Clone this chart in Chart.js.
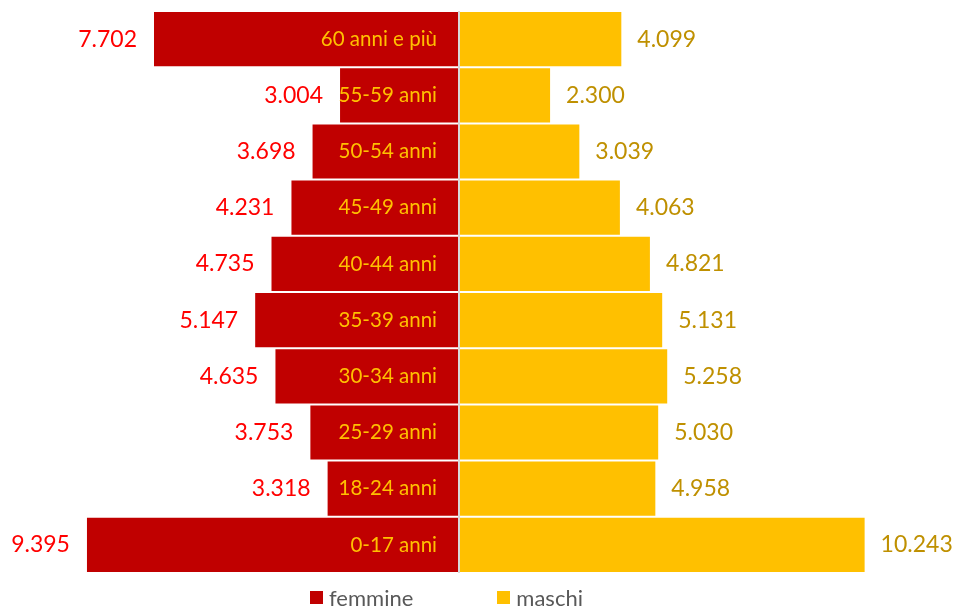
<!DOCTYPE html>
<html>
<head>
<meta charset="utf-8">
<script src="https://cdn.jsdelivr.net/npm/chart.js@4"></script>
<style>
  body { margin: 0; background: #fff; }
  #wrap { position: relative; width: 958px; height: 609px; }
  #legend {
    position: absolute; left: 310px; top: 584px;
    display: flex; gap: 84px;
    font-family: Lato, sans-serif; font-size: 22px; color: #595959;
  }
  #legend span { display: flex; align-items: center; }
  #legend i { display: inline-block; width: 13px; height: 13px; margin-right: 6px; }
</style>
</head>
<body>
<div id="wrap">
  <canvas id="pyramid"></canvas>
  <div id="legend">
    <span><i style="background:#C00000"></i>femmine</span>
    <span><i style="background:#FFC000"></i>maschi</span>
  </div>
</div>
<script>
const ageGroups = ['60 anni e più', '55-59 anni', '50-54 anni', '45-49 anni', '40-44 anni',
                   '35-39 anni', '30-34 anni', '25-29 anni', '18-24 anni', '0-17 anni'];
const femmine = [7702, 3004, 3698, 4231, 4735, 5147, 4635, 3753, 3318, 9395];
const maschi = [4099, 2300, 3039, 4063, 4821, 5131, 5258, 5030, 4958, 10243];

function fmt(n) {
    return String(Math.abs(n)).replace(/\B(?=(\d{3})+(?!\d))/g, '.');
}

// value labels, age labels and the centre line
const labelPlugin = {
    id: 'pyramidLabels',
    afterDatasetsDraw(chart) {
        const ctx = chart.ctx;
        const x0 = chart.scales.x.getPixelForValue(0);
        ctx.save();
        ctx.strokeStyle = '#d9d9d9';
        ctx.lineWidth = 2;
        ctx.beginPath();
        ctx.moveTo(x0, chart.chartArea.top);
        ctx.lineTo(x0, chart.chartArea.bottom);
        ctx.stroke();

        ctx.textBaseline = 'middle';
        const fem = chart.getDatasetMeta(0).data;
        const mas = chart.getDatasetMeta(1).data;
        fem.forEach((bar, i) => {
            ctx.font = '23px Lato, sans-serif';
            ctx.fillStyle = '#FF0000';
            ctx.textAlign = 'right';
            ctx.fillText(fmt(femmine[i]), bar.x - 17, bar.y);
            ctx.font = '20.5px Lato, sans-serif';
            ctx.fillStyle = '#FFC000';
            ctx.fillText(ageGroups[i], x0 - 22, bar.y);
        });
        mas.forEach((bar, i) => {
            ctx.font = '23px Lato, sans-serif';
            ctx.fillStyle = '#BF9000';
            ctx.textAlign = 'left';
            ctx.fillText(fmt(maschi[i]), bar.x + 16, bar.y);
        });
        ctx.restore();
    }
};

new Chart(document.getElementById('pyramid'), {
    type: 'bar',
    data: {
        labels: ageGroups,
        datasets: [{
            label: 'femmine',
            data: femmine.map(v => -v),
            backgroundColor: '#C00000'
        }, {
            label: 'maschi',
            data: maschi,
            backgroundColor: '#FFC000'
        }]
    },
    options: {
        indexAxis: 'y',
        responsive: true,
        maintainAspectRatio: false,
        animation: false,
        layout: { padding: { top: 11, bottom: 36, left: 0, right: 0 } },
        datasets: {
            bar: { categoryPercentage: 0.965, barPercentage: 1, grouped: false }
        },
        scales: {
            x: { display: false, min: -11591, max: 12601 },
            y: { display: false, stacked: true }
        },
        plugins: {
            legend: { display: false },
            tooltip: { enabled: false }
        }
    },
    plugins: [labelPlugin]
});
</script>
</body>
</html>
